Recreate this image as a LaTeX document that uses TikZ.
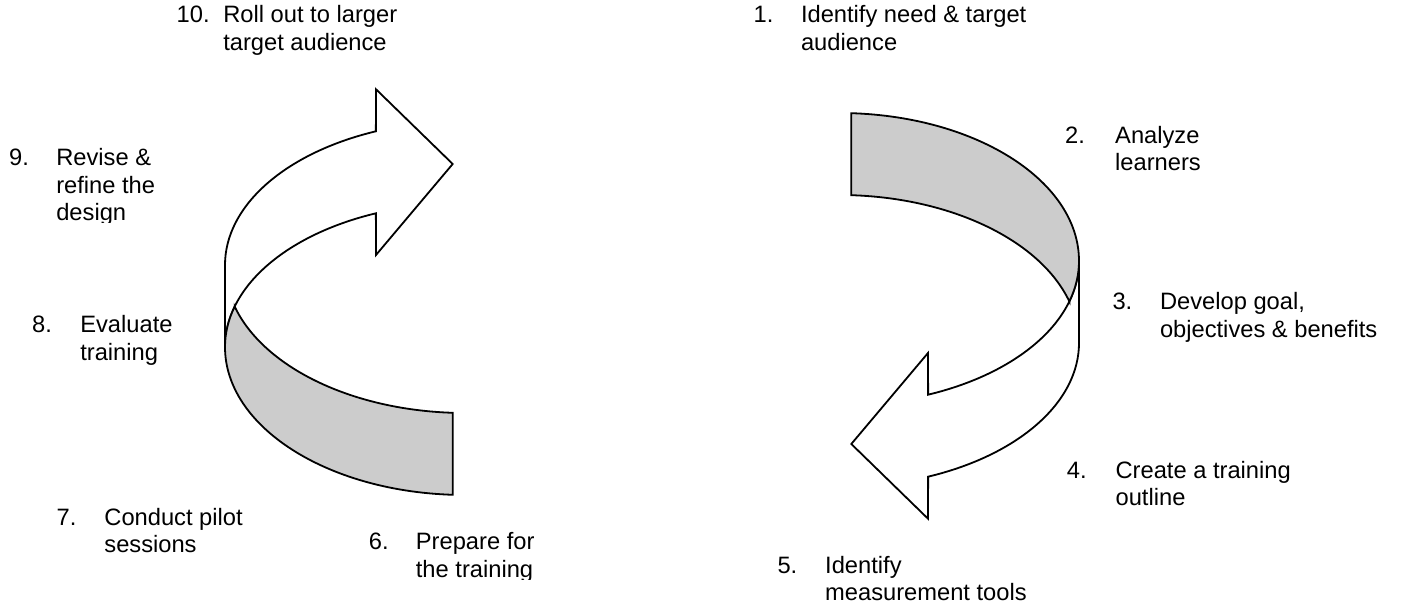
\documentclass[tikz,border=0pt]{standalone}
\usepackage{fontspec}
\setmainfont{Liberation Sans}
\definecolor{bandgray}{RGB}{204,204,204}
\newcommand\ml[1]{\begin{tabular}[t]{@{}l@{}}#1\end{tabular}}
\newcommand\RibbonArrow{%
  \draw[outline, fill=white] (465,344) ++(111.8:240 and 144)
    arc[start angle=111.8, end angle=180, x radius=240, y radius=144]
    -- ++(0,-82)
    arc[start angle=180, end angle=111.8, x radius=240, y radius=144]
    -- (376,354) -- (452.7,445) -- (376,519.7) -- cycle;
  \draw[outline, fill=bandgray] (465,344) ++(196.3:240 and 148)
    arc[start angle=196.3, end angle=267.06, x radius=240, y radius=148]
    -- ++(0,-82)
    arc[start angle=267.06, end angle=180, x radius=240, y radius=148]
    arc[start angle=180, end angle=163.7, x radius=240, y radius=144]
    -- cycle;
}
\begin{document}
\begin{tikzpicture}[x=1pt, y=1pt,
  outline/.style={draw=black, line width=1.8pt},
  lbl/.style={anchor=base west, inner sep=0pt, font=\fontsize{23.7}{27.3}\selectfont}]
\useasboundingbox (0,0) rectangle (1403,609);

% left ribbon arrow (steps 6 -> 10)
\begin{scope}
  \RibbonArrow
\end{scope}
% right ribbon arrow (steps 1 -> 5), same shape turned half a turn
\begin{scope}[rotate around={180:(652,305)}]
  \RibbonArrow
\end{scope}

% labels
\node[lbl] (n10) at (176.5,586) {10.};
\node[lbl] (t10) at (223.1,586) {\ml{Roll out to larger\\target audience}};

\node[lbl] (n1) at (753.4,586) {1.};
\node[lbl] (t1) at (800.8,586) {\ml{Identify need \& target\\audience}};

\node[lbl] (n9) at (9,443) {9.};
\begin{scope}
  \clip (0,386.6) rectangle (300,609);
  \node[lbl] (t9) at (56.1,443) {\ml{Revise \&\\refine the\\design}};
\end{scope}

\node[lbl] (n8) at (32,276) {8.};
\node[lbl] (t8) at (80.1,276) {\ml{Evaluate\\training}};

\node[lbl] (n7) at (56.5,83.3) {7.};
\node[lbl] (t7) at (104.2,83.3) {\ml{Conduct pilot\\sessions}};

\node[lbl] (n6) at (368.7,59) {6.};
\begin{scope}
  \clip (300,29.4) rectangle (700,120);
  \node[lbl] (t6) at (415.7,59) {\ml{Prepare for\\the training}};
\end{scope}

\node[lbl] (n5) at (777.3,35.7) {5.};
\node[lbl] (t5) at (825,35.7) {\ml{Identify\\measurement tools}};

\node[lbl] (n4) at (1066.7,130.7) {4.};
\node[lbl] (t4) at (1115.4,130.7) {\ml{Create a training\\outline}};

\node[lbl] (n2) at (1065,465.7) {2.};
\node[lbl] (t2) at (1115,465.7) {\ml{Analyze\\learners}};

\node[lbl] (n3) at (1112.3,299) {3.};
\node[lbl] (t3) at (1159.8,299) {\ml{Develop goal,\\objectives \& benefits}};
\end{tikzpicture}
\end{document}
